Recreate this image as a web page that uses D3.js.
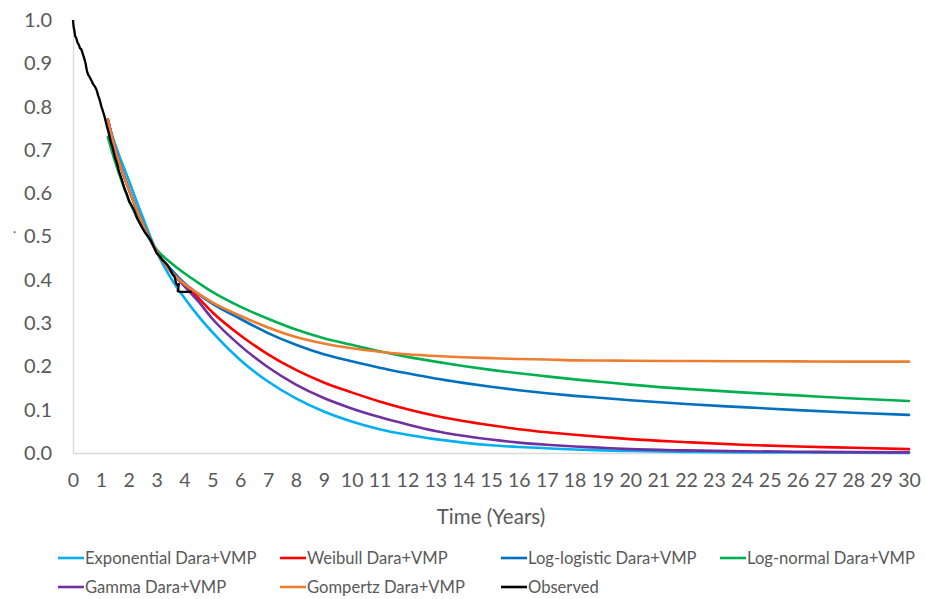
<!DOCTYPE html>
<html>
<head>
<meta charset="utf-8">
<script src="https://cdn.jsdelivr.net/npm/d3@7"></script>
<style>
  html, body { margin: 0; padding: 0; background: #fff; }
  svg { display: block; font-family: "Lato", "Open Sans", sans-serif; }
</style>
</head>
<body>
<svg id="chart" width="925" height="599"></svg>
<script>
// ---- data ----
const modelTimes = [1.25, 1.5, 2, 2.5, 3, 3.5, 4, 4.5, 5, 6, 7, 8, 9, 10, 11, 12, 13, 14, 15, 16, 17, 18, 19, 20, 22, 24, 26, 28, 30];
const exponential = [0.765, 0.715, 0.63, 0.545, 0.465, 0.405, 0.358, 0.316, 0.279, 0.215, 0.165, 0.126, 0.096, 0.073, 0.055, 0.042, 0.032, 0.024, 0.018, 0.014, 0.011, 0.008, 0.006, 0.0045, 0.0025, 0.0015, 0.001, 0.0006, 0.0004];
const weibull = [0.77, 0.705, 0.61, 0.53, 0.465, 0.425, 0.39, 0.358, 0.325, 0.272, 0.228, 0.192, 0.163, 0.14, 0.119, 0.101, 0.086, 0.074, 0.064, 0.055, 0.048, 0.042, 0.037, 0.032, 0.025, 0.019, 0.015, 0.012, 0.009];
const logLogistic = [0.77, 0.705, 0.61, 0.53, 0.465, 0.425, 0.392, 0.367, 0.345, 0.31, 0.277, 0.25, 0.228, 0.212, 0.197, 0.184, 0.172, 0.162, 0.153, 0.145, 0.138, 0.132, 0.127, 0.122, 0.113, 0.106, 0.099, 0.093, 0.088];
const logNormal = [0.73, 0.675, 0.585, 0.52, 0.47, 0.44, 0.415, 0.393, 0.372, 0.338, 0.31, 0.285, 0.265, 0.25, 0.235, 0.222, 0.211, 0.201, 0.192, 0.184, 0.177, 0.17, 0.164, 0.158, 0.148, 0.14, 0.133, 0.126, 0.12];
const gamma = [0.77, 0.705, 0.61, 0.53, 0.465, 0.42, 0.385, 0.35, 0.31, 0.248, 0.198, 0.158, 0.127, 0.103, 0.083, 0.066, 0.051, 0.04, 0.031, 0.024, 0.019, 0.015, 0.012, 0.009, 0.006, 0.004, 0.003, 0.002, 0.0015];
const gompertz = [0.77, 0.705, 0.61, 0.53, 0.465, 0.42, 0.39, 0.368, 0.348, 0.317, 0.29, 0.268, 0.253, 0.242, 0.234, 0.228, 0.224, 0.221, 0.219, 0.217, 0.216, 0.214, 0.2135, 0.213, 0.2125, 0.212, 0.2115, 0.211, 0.211];

const obsTime = [0, 0.02, 0.05, 0.08, 0.12, 0.16, 0.2, 0.25, 0.3, 0.35, 0.4, 0.45, 0.5, 0.55, 0.6, 0.66, 0.72, 0.79, 0.85, 0.9, 0.96, 1.02, 1.08, 1.14, 1.2, 1.27, 1.35, 1.42, 1.5, 1.58, 1.66, 1.75, 1.84, 1.93, 2.02, 2.1, 2.2, 2.3, 2.4, 2.5, 2.6, 2.7, 2.8, 2.9, 3.0, 3.1, 3.2, 3.3, 3.4, 3.5, 3.58, 3.64, 3.7, 3.74, 3.8, 3.76, 3.86, 4.26];
const obsSurv = [1.0, 0.985, 0.975, 0.962, 0.958, 0.948, 0.944, 0.935, 0.932, 0.922, 0.912, 0.9, 0.882, 0.873, 0.868, 0.86, 0.852, 0.846, 0.838, 0.826, 0.815, 0.8, 0.788, 0.775, 0.758, 0.742, 0.72, 0.705, 0.684, 0.668, 0.648, 0.632, 0.612, 0.598, 0.58, 0.572, 0.56, 0.542, 0.53, 0.518, 0.508, 0.5, 0.49, 0.476, 0.462, 0.455, 0.446, 0.44, 0.433, 0.422, 0.412, 0.408, 0.392, 0.388, 0.39, 0.374, 0.372, 0.372];

const seriesNames = ["Exponential Dara+VMP", "Weibull Dara+VMP", "Log-logistic Dara+VMP", "Log-normal Dara+VMP", "Gamma Dara+VMP", "Gompertz Dara+VMP", "Observed"];
const seriesColors = ["#00b0f0", "#ff0000", "#0070c0", "#00b050", "#7030a0", "#ed7d31", "#000000"];
const modelValues = [exponential, weibull, logLogistic, logNormal, gamma, gompertz];

const xTicks = d3.range(0, 31, 1);
const yTicks = [0, 0.1, 0.2, 0.3, 0.4, 0.5, 0.6, 0.7, 0.8, 0.9, 1.0];

// ---- layout ----
const svg = d3.select("#chart");
const mLeft = 73, mRight = 909, mTop = 20, mBottom = 453;
const x = d3.scaleLinear().domain([0, 30]).range([mLeft, mRight]);
const y = d3.scaleLinear().domain([0, 1]).range([mBottom, mTop]);

// y axis
const yAxis = svg.append("g").attr("transform", `translate(${mLeft},0)`)
  .call(d3.axisLeft(y).tickValues(yTicks).tickFormat(d3.format(".1f")).tickSize(0).tickPadding(21));
yAxis.select(".domain").attr("stroke", "#d9d9d9").attr("stroke-width", 1.3);
yAxis.selectAll("text").attr("fill", "#595959").style("font-size", "20px").style("font-family", "Lato, sans-serif");

// x axis
const xAxis = svg.append("g").attr("transform", `translate(0,${mBottom})`)
  .call(d3.axisBottom(x).tickValues(xTicks).tickFormat(d3.format("d")).tickSize(0).tickPadding(20));
xAxis.select(".domain").attr("stroke", "#d9d9d9").attr("stroke-width", 1.3);
xAxis.selectAll("text").attr("fill", "#595959").style("font-size", "19.5px").style("font-family", "Lato, sans-serif");

// axis title
svg.append("text").attr("x", 491).attr("y", 524)
  .attr("text-anchor", "middle").attr("fill", "#595959")
  .style("font-size", "20.5px").text("Time (Years)");

// stray truncated mark at left
svg.append("text").attr("x", 13).attr("y", 236).attr("fill", "#595959")
  .style("font-size", "12px").text("·");

// ---- lines ----
const line = d3.line().x(d => x(d[0])).y(d => y(d[1])).curve(d3.curveMonotoneX);
const plot = svg.append("g");
modelValues.forEach((vals, i) => {
  const pts = modelTimes.map((t, j) => [t, vals[j]]);
  plot.append("path").datum(pts).attr("d", line)
    .attr("fill", "none").attr("stroke", seriesColors[i]).attr("stroke-width", 2.6)
    .attr("stroke-linejoin", "round").attr("stroke-linecap", "round");
});
const obsLine = d3.line().x(d => x(d[0])).y(d => y(d[1]));
plot.append("path").datum(obsTime.map((t, j) => [t, obsSurv[j]])).attr("d", obsLine)
  .attr("fill", "none").attr("stroke", seriesColors[6]).attr("stroke-width", 2.3)
  .attr("stroke-linejoin", "round");

// ---- legend ----
const legendPos = [[58, 558], [280, 558], [501, 558], [720, 558], [58, 587], [280, 587], [501, 587]];
const lg = svg.append("g");
seriesNames.forEach((name, i) => {
  const [lx, ly] = legendPos[i];
  lg.append("line").attr("x1", lx).attr("x2", lx + 26).attr("y1", ly).attr("y2", ly)
    .attr("stroke", seriesColors[i]).attr("stroke-width", 2.6);
  lg.append("text").attr("x", lx + 27).attr("y", ly).attr("dy", "0.35em")
    .attr("fill", "#595959").style("font-size", "16.6px").text(name);
});
</script>
</body>
</html>
